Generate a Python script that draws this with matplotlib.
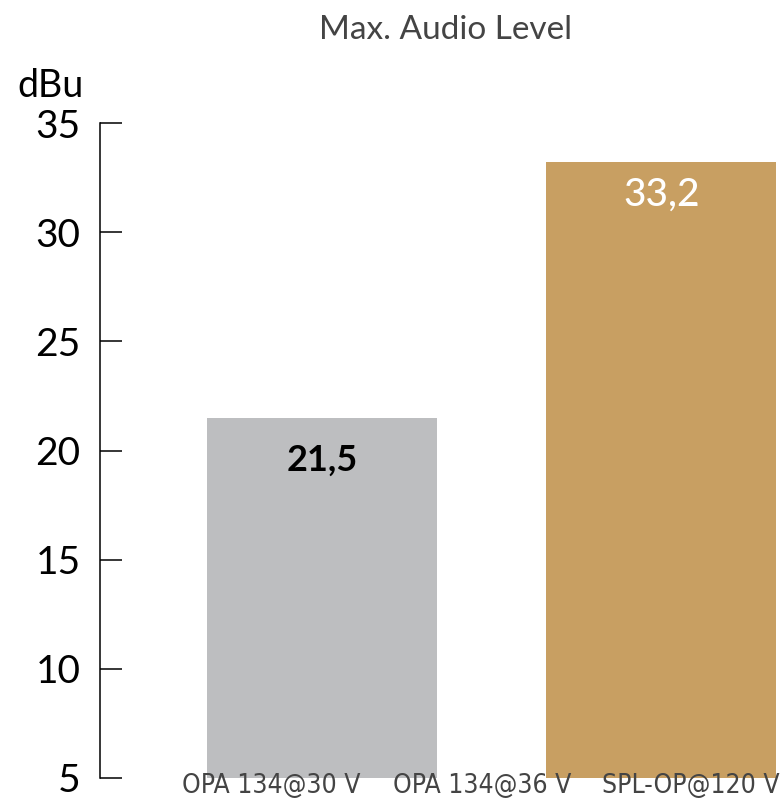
import matplotlib
matplotlib.use("Agg")
import matplotlib.pyplot as plt

# data
bar_values = [21.5, 33.2]
bar_labels = ["21,5", "33,2"]
bar_colors = ["#bdbec0", "#c89f62"]
label_colors = ["black", "white"]
label_weights = ["bold", "medium"]
label_offsets = [-1.95, -1.5]   # value label sits a bit below the bar top
categories = ["OPA 134@30 V", "OPA 134@36 V", "SPL-OP@120 V"]
cat_x = [0.251, 0.56, 0.866]   # in axes fraction, as in the source image
yticks = [5, 10, 15, 20, 25, 30, 35]

plt.rcParams["font.family"] = ["Lato", "DejaVu Sans"]

fig = plt.figure(figsize=(7.82, 8), dpi=100)
ax = fig.add_axes([100/782, 22/800, 682/782, 655/800])

x = list(range(len(bar_values)))
ax.bar(x, bar_values, width=0.6775, color=bar_colors, bottom=0)

for i, v in enumerate(bar_values):
    ax.text(x[i], v + label_offsets[i], bar_labels[i], ha="center", va="center",
            fontsize=[26, 28][i], color=label_colors[i], fontweight=label_weights[i])

ax.set_ylim(5, 35)
ax.set_xlim(-0.654, 1.355)
ax.set_yticks(yticks)
ax.set_xticks([])
ax.tick_params(axis="y", direction="in", length=16, width=1.1, pad=14,
               labelsize=28, colors="black")
for s in ["top", "right", "bottom"]:
    ax.spines[s].set_visible(False)
ax.spines["left"].set_linewidth(1.1)

fig.text(17/782, 703/800, "dBu", fontsize=27, ha="left", va="baseline")
fig.text(446/782, 770/800, "Max. Audio Level", fontsize=24, ha="center",
         va="center", color="#444444")

for cx, name in zip(cat_x, categories):
    fig.text((100 + cx*682)/782, 27/800, name, fontsize=19, ha="center",
             va="top", color="#444444", family="DejaVu Sans",
             fontstretch="condensed")

plt.savefig("out.png", dpi=100)
